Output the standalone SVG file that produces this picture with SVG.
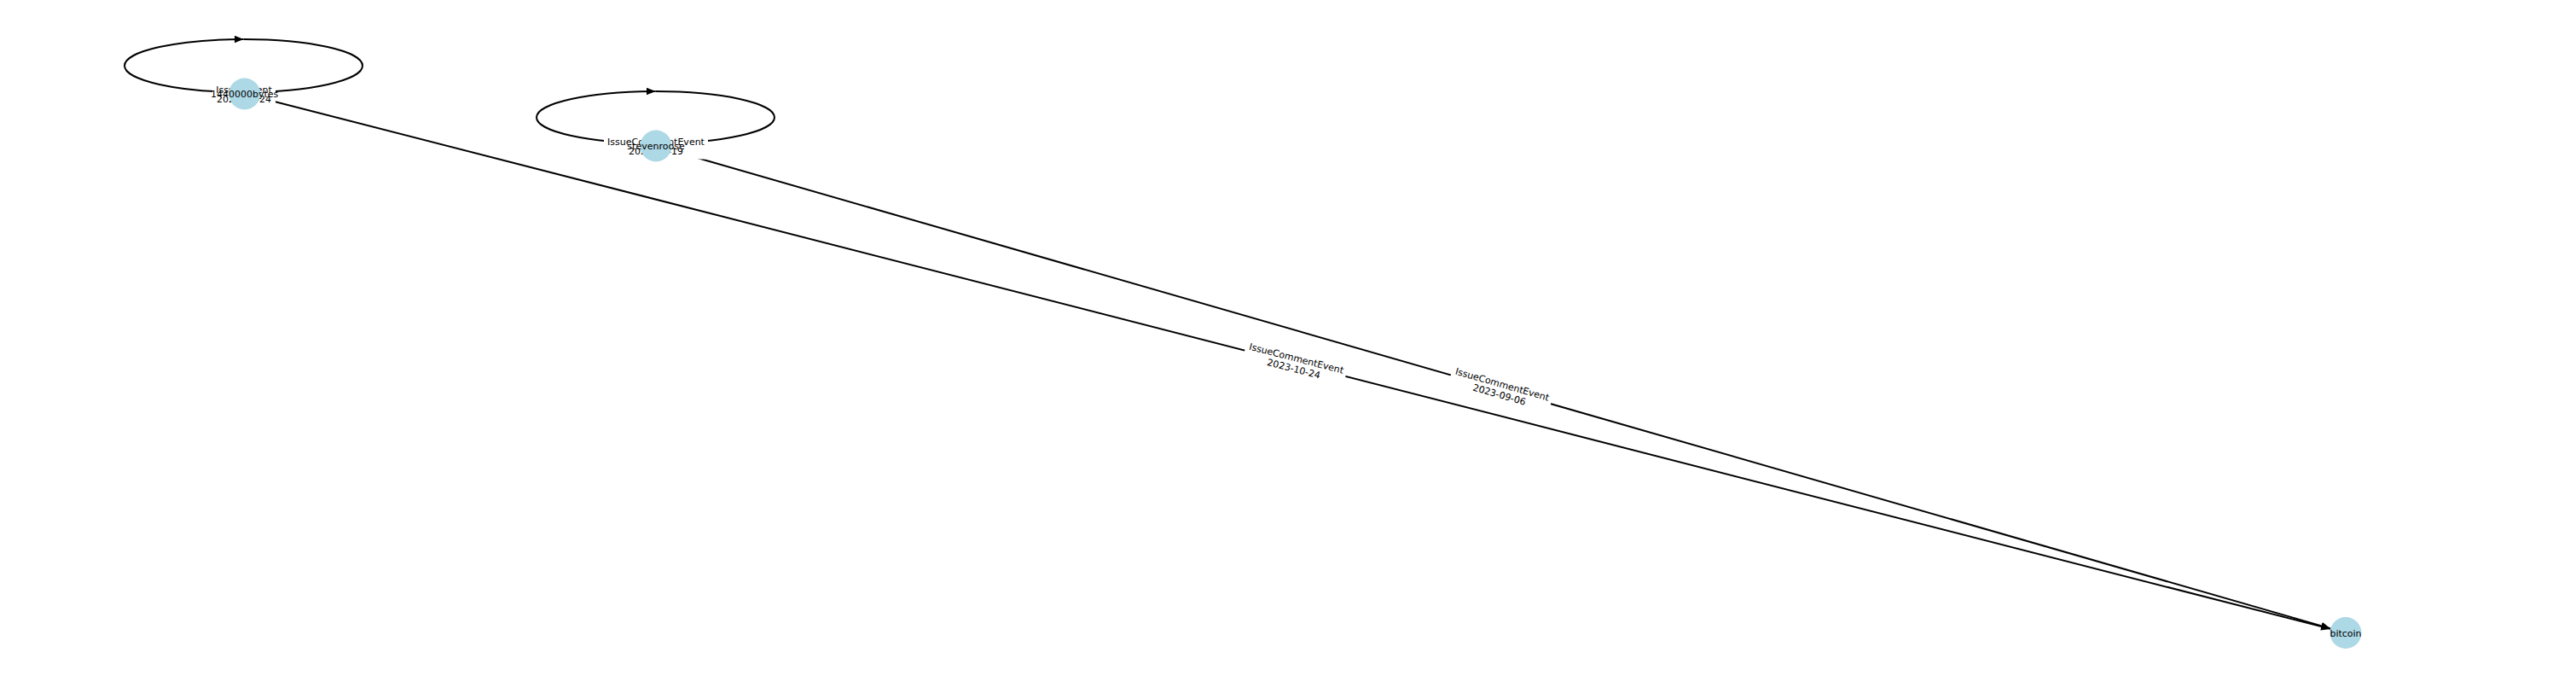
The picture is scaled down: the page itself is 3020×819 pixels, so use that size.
<svg xmlns="http://www.w3.org/2000/svg" width="3020" height="819" viewBox="0 0 3020 819">
<style>
.edge{fill:none;stroke:#000;stroke-width:2}
.node{fill:#add8e6}
.lbl{font-family:"DejaVu Sans",sans-serif;font-size:11px;fill:#000;text-anchor:middle}
.bbox{fill:#fff}
</style>
<defs>
<marker id="arr" markerUnits="userSpaceOnUse" markerWidth="11" markerHeight="9" refX="11" refY="4.5" orient="auto">
<path d="M0,0 L11,4.5 L0,9 z" fill="#000"/>
</marker>
</defs>
<g id="connectors">
<path class="edge" d="M285.5,108 A139.5,31 0 0 1 146,77 A139.5,31 0 0 1 285.5,46" marker-end="url(#arr)"/>
<path class="edge" d="M285.5,46 A139.5,31 0 0 1 425,77 A139.5,31 0 0 1 285.5,108"/>
<path class="edge" d="M768.5,168 A139.5,30.5 0 0 1 629,137.5 A139.5,30.5 0 0 1 768.5,107" marker-end="url(#arr)"/>
<path class="edge" d="M768.5,107 A139.5,30.5 0 0 1 908,137.5 A139.5,30.5 0 0 1 768.5,168"/>
<line class="edge" x1="286.7" y1="110" x2="2732.1" y2="736.9" marker-end="url(#arr)"/>
<line class="edge" x1="769" y1="171" x2="2732.2" y2="736.4" marker-end="url(#arr)"/>
<g transform="translate(1518.35,425.75) rotate(14.38)">
<rect class="bbox" x="-61" y="-15" width="122" height="30" rx="3"/>
<text class="lbl" x="0" y="-2.25">IssueCommentEvent</text>
<text class="lbl" x="0" y="10.25">2023-10-24</text>
</g>
<g transform="translate(1759.5,456.25) rotate(16.07)">
<rect class="bbox" x="-61" y="-15" width="122" height="30" rx="3"/>
<text class="lbl" x="0" y="-2.25">IssueCommentEvent</text>
<text class="lbl" x="0" y="10.25">2023-09-06</text>
</g>
<g transform="translate(286,110.5)">
<rect class="bbox" x="-37" y="-15" width="74" height="30" rx="3"/>
<text class="lbl" x="0" y="-1.5">IssuesEvent</text>
<text class="lbl" x="0" y="9.5">2023-10-24</text>
</g>
<g transform="translate(769,171.5)">
<rect class="bbox" x="-61" y="-15" width="122" height="30" rx="3"/>
<text class="lbl" x="0" y="-1.5">IssueCommentEvent</text>
<text class="lbl" x="0" y="9.5">2023-09-19</text>
</g>
</g>
<g id="node-1440000bytes">
<circle class="node" cx="286.7" cy="110" r="18.5"/>
<text class="lbl" x="286.7" y="114">1440000bytes</text>
</g>
<g id="node-stevenroose">
<circle class="node" cx="769" cy="171" r="18.5"/>
<text class="lbl" x="769" y="175">stevenroose</text>
</g>
<g id="node-bitcoin">
<circle class="node" cx="2750" cy="741.5" r="18.5"/>
<text class="lbl" x="2750" y="745.5">bitcoin</text>
</g>
</svg>
